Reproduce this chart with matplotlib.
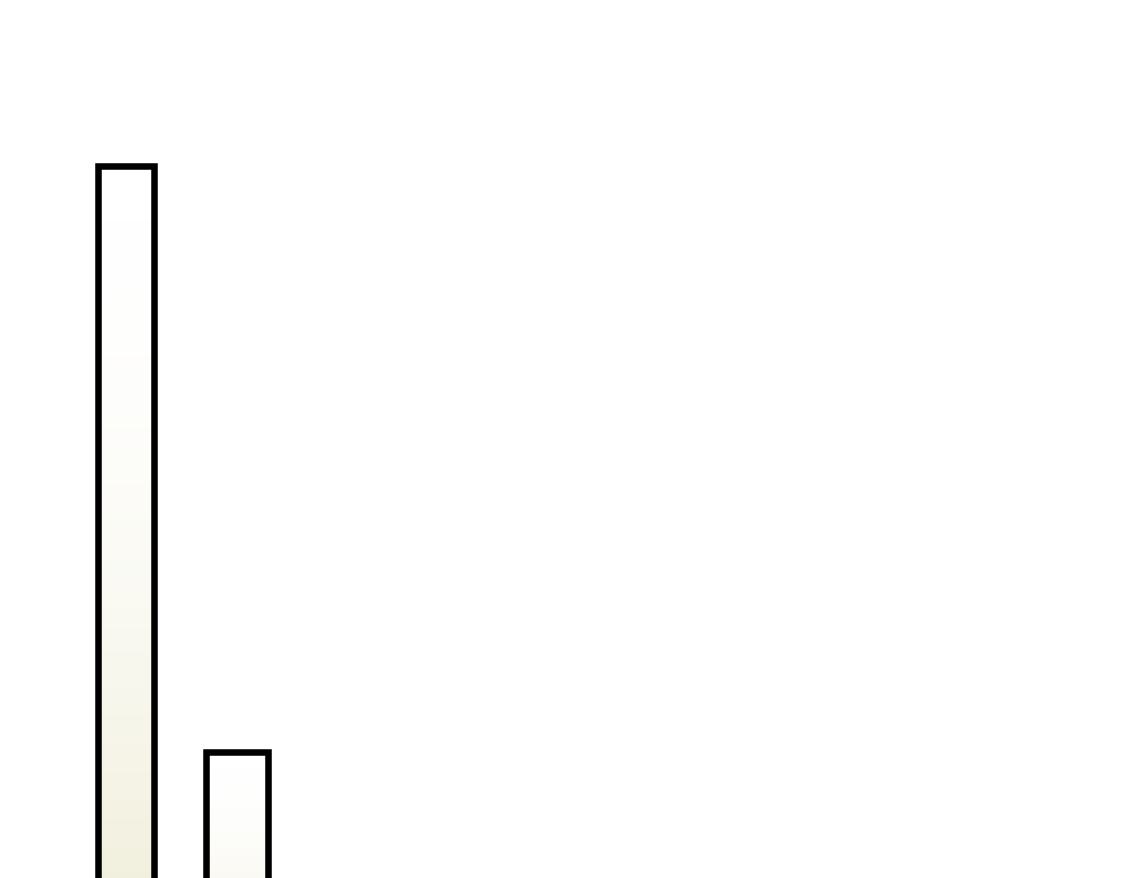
import numpy as np
import matplotlib
matplotlib.use("Agg")
import matplotlib.pyplot as plt
from matplotlib.colors import LinearSegmentedColormap

categories = ["A", "B"]
values = [100, 30]

# styling
bar_widths = [0.5, 0.55]
top_color = "#FFFFFF"
bottom_color = "#EDEAD1"

fig = plt.figure(figsize=(11.25, 8.79), dpi=100)
ax = fig.add_axes([0, 0, 1, 1])
ax.set_axis_off()
ax.set_xlim(-1.135, 9.0)
ax.set_ylim(15, 120)

x = np.arange(len(categories))
bars = ax.bar(x, values, width=bar_widths, facecolor="none",
              edgecolor="black", linewidth=4.7, zorder=3)

cmap = LinearSegmentedColormap.from_list("grad", [top_color, bottom_color])
t = np.linspace(0, 1, 256) ** 2
grad = t.reshape(-1, 1)
for b in bars:
    x0, y0 = b.get_x(), b.get_y()
    w, h = b.get_width(), b.get_height()
    im = ax.imshow(grad, cmap=cmap, vmin=0, vmax=1, aspect="auto",
                   extent=(x0, x0 + w, y0, y0 + h), origin="lower" if False else "upper",
                   zorder=2, interpolation="bilinear")
    im.set_clip_path(b)

ax.set_xlim(-1.135, 9.0)
ax.set_ylim(15, 120)

fig.savefig("out.png", dpi=100, facecolor="white")
